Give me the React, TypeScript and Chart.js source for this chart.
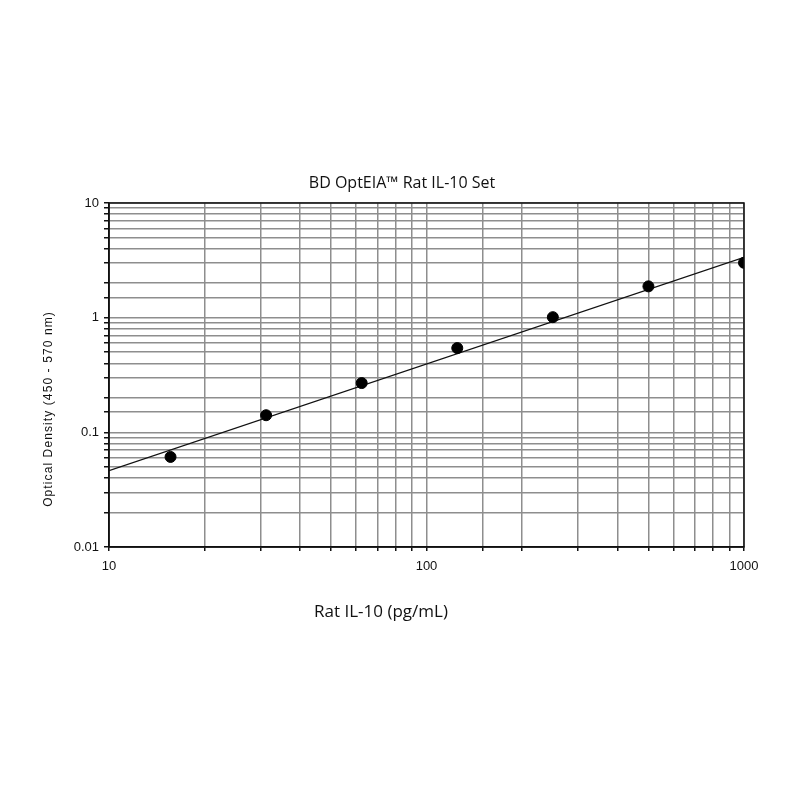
import { FC, useEffect, useRef } from 'react'
import { Chart, registerables, Plugin } from 'chart.js'

Chart.register(...registerables)

// standard concentrations (pg/mL) and measured optical density
const concentrations = [15.625, 31.25, 62.5, 125, 250, 500, 1000]
const opticalDensity = [0.061, 0.141, 0.269, 0.543, 1.01, 1.875, 3.01]

// fitted standard curve (straight in log-log space)
const fitConcentrations = [10, 1000]
const fitDensity = [0.0463, 3.36]

const xTickLabels = [10, 100, 1000]
const yTickLabels = [0.01, 0.1, 1, 10]

const chartTitle = 'BD OptEIA™ Rat IL-10 Set'
const xAxisTitle = 'Rat IL-10 (pg/mL)'
const yAxisTitle = 'Optical Density (450 - 570 nm)'

const textPlugin: Plugin = {
  id: 'textPlugin',
  afterDraw: (chart) => {
    const { ctx, chartArea } = chart
    const { left, right, top, bottom } = chartArea
    ctx.save()
    // frame round the plot area
    ctx.strokeStyle = '#111'
    ctx.lineWidth = 1.5
    ctx.strokeRect(left, top, right - left, bottom - top)

    ctx.fillStyle = '#111'
    ctx.textAlign = 'center'
    ctx.textBaseline = 'middle'
    ctx.font = '16px "Open Sans"'
    ctx.fillText(chartTitle, left + 293, top - 20)
    ctx.font = '17px "Open Sans"'
    ctx.fillText(xAxisTitle, left + 272, bottom + 65)

    ctx.translate(left - 60, top + 206)
    ctx.rotate(-Math.PI / 2)
    ctx.font = '12px "Liberation Sans"'
    ;(ctx as any).letterSpacing = '1.1px'
    ctx.fillText(yAxisTitle, 0, 0)
    ctx.restore()
  },
}

const StandardCurve: FC = () => {
  const chartRef = useRef<HTMLCanvasElement | null>(null)

  useEffect(() => {
    let chartInstance: Chart | null = null
    if (chartRef && chartRef.current) {
      chartInstance = new Chart(chartRef.current, {
        type: 'scatter',
        data: {
          datasets: [
            {
              label: 'Standard',
              data: concentrations.map((x, i) => ({ x, y: opticalDensity[i] })),
              backgroundColor: '#000',
              borderColor: '#000',
              pointRadius: 5.5,
            },
            {
              type: 'line',
              label: 'Fit',
              data: fitConcentrations.map((x, i) => ({ x, y: fitDensity[i] })),
              borderColor: '#111',
              borderWidth: 1.3,
              pointRadius: 0,
              fill: false,
            },
          ],
        },
        options: {
          animation: false,
          responsive: true,
          maintainAspectRatio: false,
          layout: {
            padding: { left: 0, top: 203, right: 56, bottom: 223 },
          },
          plugins: {
            legend: { display: false },
            tooltip: { enabled: false },
          },
          scales: {
            x: {
              type: 'logarithmic',
              min: 10,
              max: 1000,
              afterFit: (scale) => {
                scale.height = 30
              },
              grid: {
                color: '#8e8e8e',
                lineWidth: 1.5,
                tickColor: '#111',
                tickLength: 4,
              },
              border: { color: '#111', width: 1.5 },
              ticks: {
                autoSkip: false,
                maxRotation: 0,
                color: '#111',
                padding: 8,
                font: { family: 'Liberation Sans', size: 13 },
                callback: (value) =>
                  xTickLabels.includes(Number(value)) ? String(value) : '',
              },
            },
            y: {
              type: 'logarithmic',
              min: 0.01,
              max: 10,
              afterFit: (scale) => {
                scale.width = 109
              },
              grid: {
                color: '#8e8e8e',
                lineWidth: 1.5,
                tickColor: '#111',
                tickLength: 5,
              },
              border: { color: '#111', width: 1.5 },
              ticks: {
                autoSkip: false,
                color: '#111',
                padding: 5,
                font: { family: 'Liberation Sans', size: 13 },
                callback: (value) =>
                  yTickLabels.includes(Number(value)) ? String(value) : '',
              },
            },
          },
        },
        plugins: [textPlugin],
      })
    }
    return () => {
      if (!!chartInstance) {
        chartInstance.destroy()
      }
    }
  }, [])

  return <canvas ref={chartRef} />
}

export default function App() {
  return (
    <div
      style={{
        position: 'absolute',
        left: 0,
        top: 0,
        width: 800,
        height: 800,
        background: '#fff',
      }}
    >
      <StandardCurve />
    </div>
  )
}
